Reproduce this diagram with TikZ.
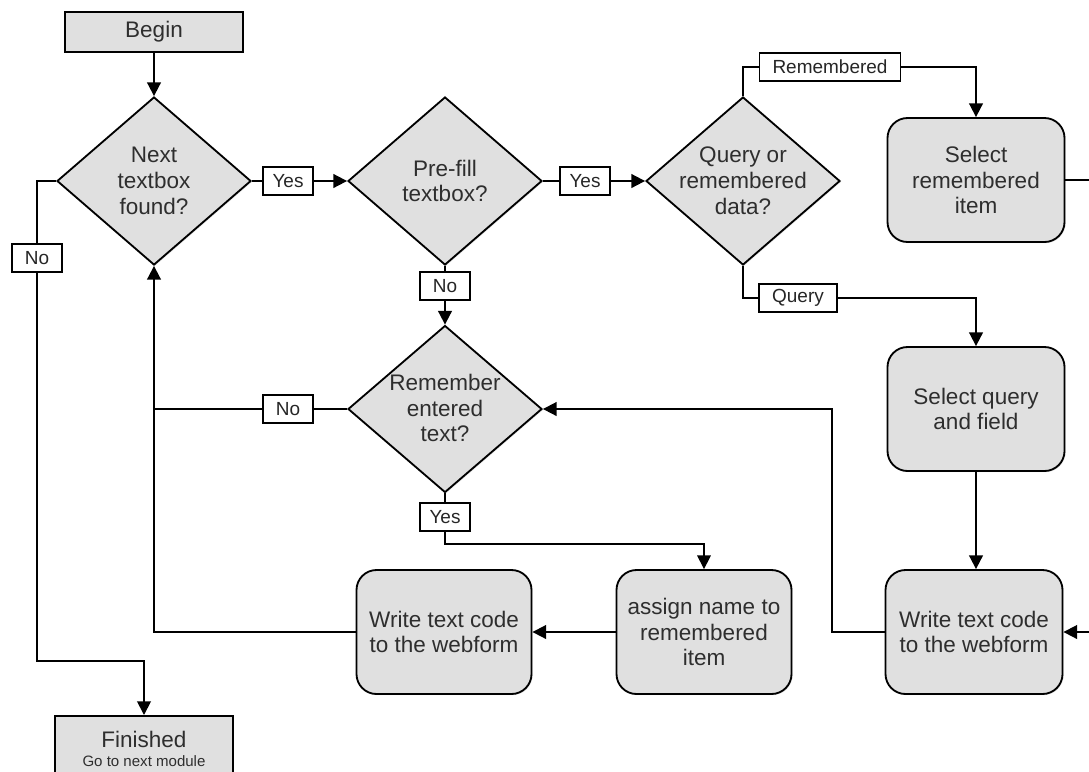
\documentclass[tikz,border=0pt]{standalone}
\usepackage{fontspec}
\setmainfont{Liberation Sans}
\usetikzlibrary{shapes.geometric,arrows.meta,shadows}
\definecolor{boxfill}{HTML}{E0E0E0}
\definecolor{ink}{HTML}{2E2E2E}
\begin{document}
\begin{tikzpicture}[x=0.025cm,y=-0.025cm,
  every node/.style={font=\fontsize{16}{18.4}\selectfont, text=ink, align=center},
  shade/.style={drop shadow={shadow xshift=0.8pt,shadow yshift=-0.8pt,opacity=0.22}},
  term/.style={draw=black, line width=1.3pt, fill=boxfill, rectangle, shade,
    minimum width=178*0.025cm, minimum height=40*0.025cm, inner sep=0pt},
  proc/.style={draw=black, line width=1.3pt, fill=boxfill, rectangle, shade,
    rounded corners=0.5cm, minimum width=177*0.025cm, minimum height=124*0.025cm, inner sep=0pt},
  decision/.style={draw=black, line width=1.3pt, fill=boxfill, diamond, shade,
    minimum width=194*0.025cm, minimum height=168*0.025cm, inner sep=0pt},
  dtext/.style={inner sep=0pt},
  lbl/.style={draw=black, line width=1pt, fill=white, font=\fontsize{13.5}{15}\selectfont,
    text=black!85, minimum height=28*0.025cm, minimum width=50*0.025cm, inner xsep=0.2cm, inner ysep=0pt},
  widelbl/.style={lbl, inner xsep=0.33cm},
  flow/.style={line width=1.3pt, draw=black},
  arr/.style={flow, -{Triangle[length=0.34cm,width=0.34cm]}},
]
\useasboundingbox (0,0) rectangle (1089,771);
\clip (0,0) rectangle (1089,771);

% terminal boxes
\node[term] (begin) at (154,32) {Begin};
\node[term, anchor=north, minimum height=66*0.025cm] (fin) at (144,715)
  {Finished\\[-5pt]{\fontsize{10.7}{12}\selectfont Go to next module}};

% decisions
\node[decision] (d1) at (154,181) {};
\node[dtext] (d1t) at (d1) {Next\\textbox\\found?};
\node[decision] (d2) at (445,181) {};
\node[dtext] (d2t) at (d2) {Pre-fill\\textbox?};
\node[decision] (d3) at (743,181) {};
\node[dtext] (d3t) at (d3) {Query or\\remembered\\data?};
\node[decision, minimum height=167*0.025cm] (d4) at (445,409) {};
\node[dtext] (d4t) at (445,408) {Remember\\entered\\text?};

% process boxes
\node[proc] (selrem) at (976,180) {Select\\remembered\\item};
\node[proc] (selq) at (976,409) {Select query\\and field};
\node[proc] (wr2) at (974,632) {Write text code\\to the webform};
\node[proc, minimum width=175*0.025cm] (assign) at (704,632) {assign name to\\remembered\\item};
\node[proc, minimum width=175*0.025cm] (wr1) at (444,632) {Write text code\\to the webform};

% branch labels
\node[lbl] (y1) at (288,181) {Yes};
\node[lbl] (y2) at (585,181) {Yes};
\node[widelbl] (rem) at (830,67) {Remembered};
\node[widelbl] (qry) at (798,298) {Query};
\node[lbl] (n1) at (445,286) {No};
\node[lbl] (n2) at (288,409) {No};
\node[lbl] (y3) at (445,517) {Yes};
\node[lbl] (n3) at (37,258) {No};

% bend and edge points
\coordinate (c1) at (832,632);
\coordinate (c2) at (704,544);
\coordinate (c3) at (37,181);
\coordinate (c4) at (37,661);
\coordinate (c5) at (144,661);
\coordinate (out1) at (1100,180);
\coordinate (out2) at (1100,632);

% connectors
\draw[arr] (begin) -- (d1.north);
\draw[flow] (d1.east) -- (y1);
\draw[arr] (y1) -- (d2.west);
\draw[flow] (d2.east) -- (y2);
\draw[arr] (y2) -- (d3.west);
\draw[flow] (d3.north) |- (rem.west);
\draw[arr] (rem.east) -| (selrem.north);
\draw[flow] (d3.south) |- (qry.west);
\draw[arr] (qry.east) -| (selq.north);
\draw[flow] (selrem.east) -- (out1);
\draw[arr] (selq.south) -- (selq.south |- wr2.north);
\draw[arr] (out2) -- (wr2.east);
\draw[arr] (wr2.west) -- (c1) |- (d4.east);
\draw[flow] (d2.south) -- (n1);
\draw[arr] (n1) -- (d4.north);
\draw[flow] (d4.west) -- (n2);
\draw[flow] (n2) -- (n2 -| d1.south);
\draw[arr] (wr1.west) -| (d1.south);
\draw[flow] (d4.south) -- (y3);
\draw[arr, line width=0.9pt] (y3.south) |- (c2) -- (assign.north);
\draw[arr] (assign.west) -- (wr1.east);
\draw[flow] (d1.west) -- (c3) -- (n3);
\draw[arr] (n3) -- (c4) -- (c5) -- (fin.north);
\end{tikzpicture}
\end{document}
